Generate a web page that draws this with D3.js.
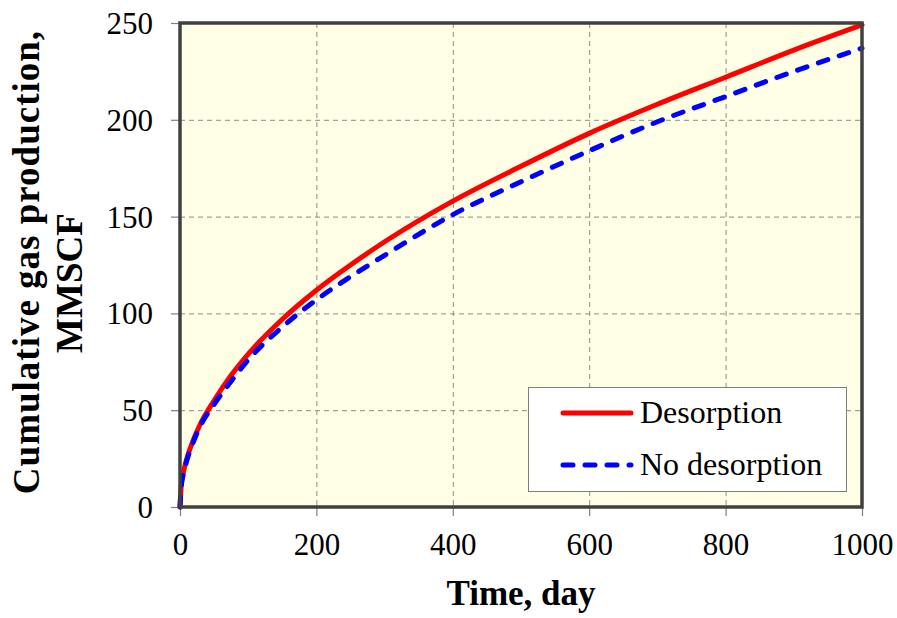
<!DOCTYPE html>
<html>
<head>
<meta charset="utf-8">
<script src="https://cdn.jsdelivr.net/npm/d3@7"></script>
<style>
  html, body { margin: 0; padding: 0; background: #ffffff; }
  svg { display: block; }
  text { font-family: "Liberation Serif", "Times New Roman", serif; fill: #000; }
</style>
</head>
<body>
<svg id="chart" width="897" height="618"></svg>
<script>
// Time axis (days) and cumulative production (MMSCF)
const timeDays = [0, 2, 5, 10, 20, 30, 50, 75, 100, 150, 200, 250, 300, 400, 500, 600, 700, 800, 900, 1000];
const desorption = [0, 12, 18, 25, 35, 43, 55, 68, 79, 97, 112, 125, 137, 158, 176, 193, 208, 222, 236, 249];
const noDesorption = [0, 11, 17, 24, 34, 42, 53, 65, 76, 93, 107, 119, 130, 151, 168, 184, 199, 212, 225, 237];
const xTicks = [0, 200, 400, 600, 800, 1000];
const yTicks = [0, 50, 100, 150, 200, 250];
const seriesNames = ["Desorption", "No desorption"];

const svg = d3.select("#chart");
const plot = { left: 180, right: 862, top: 23, bottom: 507 };

const x = d3.scaleLinear().domain([0, 1000]).range([plot.left, plot.right]);
const y = d3.scaleLinear().domain([0, 250]).range([plot.bottom, plot.top]);

// plot background
svg.append("rect")
  .attr("x", plot.left).attr("y", plot.top)
  .attr("width", plot.right - plot.left).attr("height", plot.bottom - plot.top)
  .attr("fill", "#FFFFE5");

// dashed gridlines
const grid = svg.append("g").attr("stroke", "#8c8c8c").attr("stroke-width", 1).attr("stroke-dasharray", "5,4");
grid.selectAll("line.gx").data(xTicks.slice(1, -1)).join("line")
  .attr("x1", d => x(d) + 0.5).attr("x2", d => x(d) + 0.5)
  .attr("y1", plot.top).attr("y2", plot.bottom);
grid.selectAll("line.gy").data(yTicks.slice(1, -1)).join("line")
  .attr("x1", plot.left).attr("x2", plot.right)
  .attr("y1", d => y(d) + 0.5).attr("y2", d => y(d) + 0.5);

// axes
const xAxis = d3.axisBottom(x).tickValues(xTicks).tickSize(9).tickPadding(18).tickFormat(d3.format("d"));
const yAxis = d3.axisLeft(y).tickValues(yTicks).tickSize(9).tickPadding(18).tickFormat(d3.format("d"));

const gx = svg.append("g").attr("transform", `translate(0,${plot.bottom})`).call(xAxis);
const gy = svg.append("g").attr("transform", `translate(${plot.left},0)`).call(yAxis);
[gx, gy].forEach(g => {
  g.select(".domain").remove();
  g.selectAll(".tick line").attr("stroke", "#808080").attr("stroke-width", 1.2);
  g.selectAll(".tick text").attr("font-size", 31).attr("font-family", "Liberation Serif, Times New Roman, serif").attr("fill", "#000");
});
gx.selectAll(".tick text").attr("dy", null).attr("y", 48);
gy.selectAll(".tick text").attr("dy", "0.34em").attr("x", -27);

// series curves
const line = d3.line().x(d => x(d[0])).y(d => y(d[1])).curve(d3.curveMonotoneX);
const redData = timeDays.map((t, i) => [t, desorption[i]]);
const blueData = timeDays.map((t, i) => [t, noDesorption[i]]);

svg.append("path").datum(redData).attr("d", line)
  .attr("fill", "none").attr("stroke", "#FF0000").attr("stroke-width", 5).attr("stroke-linecap", "round");
svg.append("path").datum(blueData).attr("d", line)
  .attr("fill", "none").attr("stroke", "#0000FF").attr("stroke-width", 5)
  .attr("stroke-dasharray", "10,12").attr("stroke-linecap", "round");

// plot frame
svg.append("rect")
  .attr("x", plot.left).attr("y", plot.top)
  .attr("width", plot.right - plot.left).attr("height", plot.bottom - plot.top)
  .attr("fill", "none").attr("stroke", "#404040").attr("stroke-width", 3.5);

// legend
const lg = svg.append("g");
lg.append("rect").attr("x", 528.5).attr("y", 387.5).attr("width", 318).attr("height", 104)
  .attr("fill", "#ffffff").attr("stroke", "#7f7f7f").attr("stroke-width", 1);
const legendItems = [
  { name: seriesNames[0], color: "#FF0000", dash: null, yy: 413 },
  { name: seriesNames[1], color: "#0000FF", dash: "10,12", yy: 465 }
];
legendItems.forEach(it => {
  lg.append("line").attr("x1", 563).attr("x2", 631).attr("y1", it.yy).attr("y2", it.yy)
    .attr("stroke", it.color).attr("stroke-width", 5).attr("stroke-linecap", "round")
    .attr("stroke-dasharray", it.dash);
  lg.append("text").attr("x", 640).attr("y", it.yy + 10).attr("font-size", 32).text(it.name);
});

// axis titles
svg.append("text").attr("x", (plot.left + plot.right) / 2).attr("y", 605)
  .attr("text-anchor", "middle").attr("font-size", 35).attr("font-weight", "bold")
  .text("Time, day");

svg.append("text").attr("transform", "translate(39,262) rotate(-90)")
  .attr("text-anchor", "middle").attr("font-size", 37).attr("font-weight", "bold")
  .attr("letter-spacing", 1)
  .text("Cumulative gas production,");
svg.append("text").attr("transform", "translate(82,283) rotate(-90)")
  .attr("text-anchor", "middle").attr("font-size", 37).attr("font-weight", "bold")
  .text("MMSCF");
</script>
</body>
</html>
